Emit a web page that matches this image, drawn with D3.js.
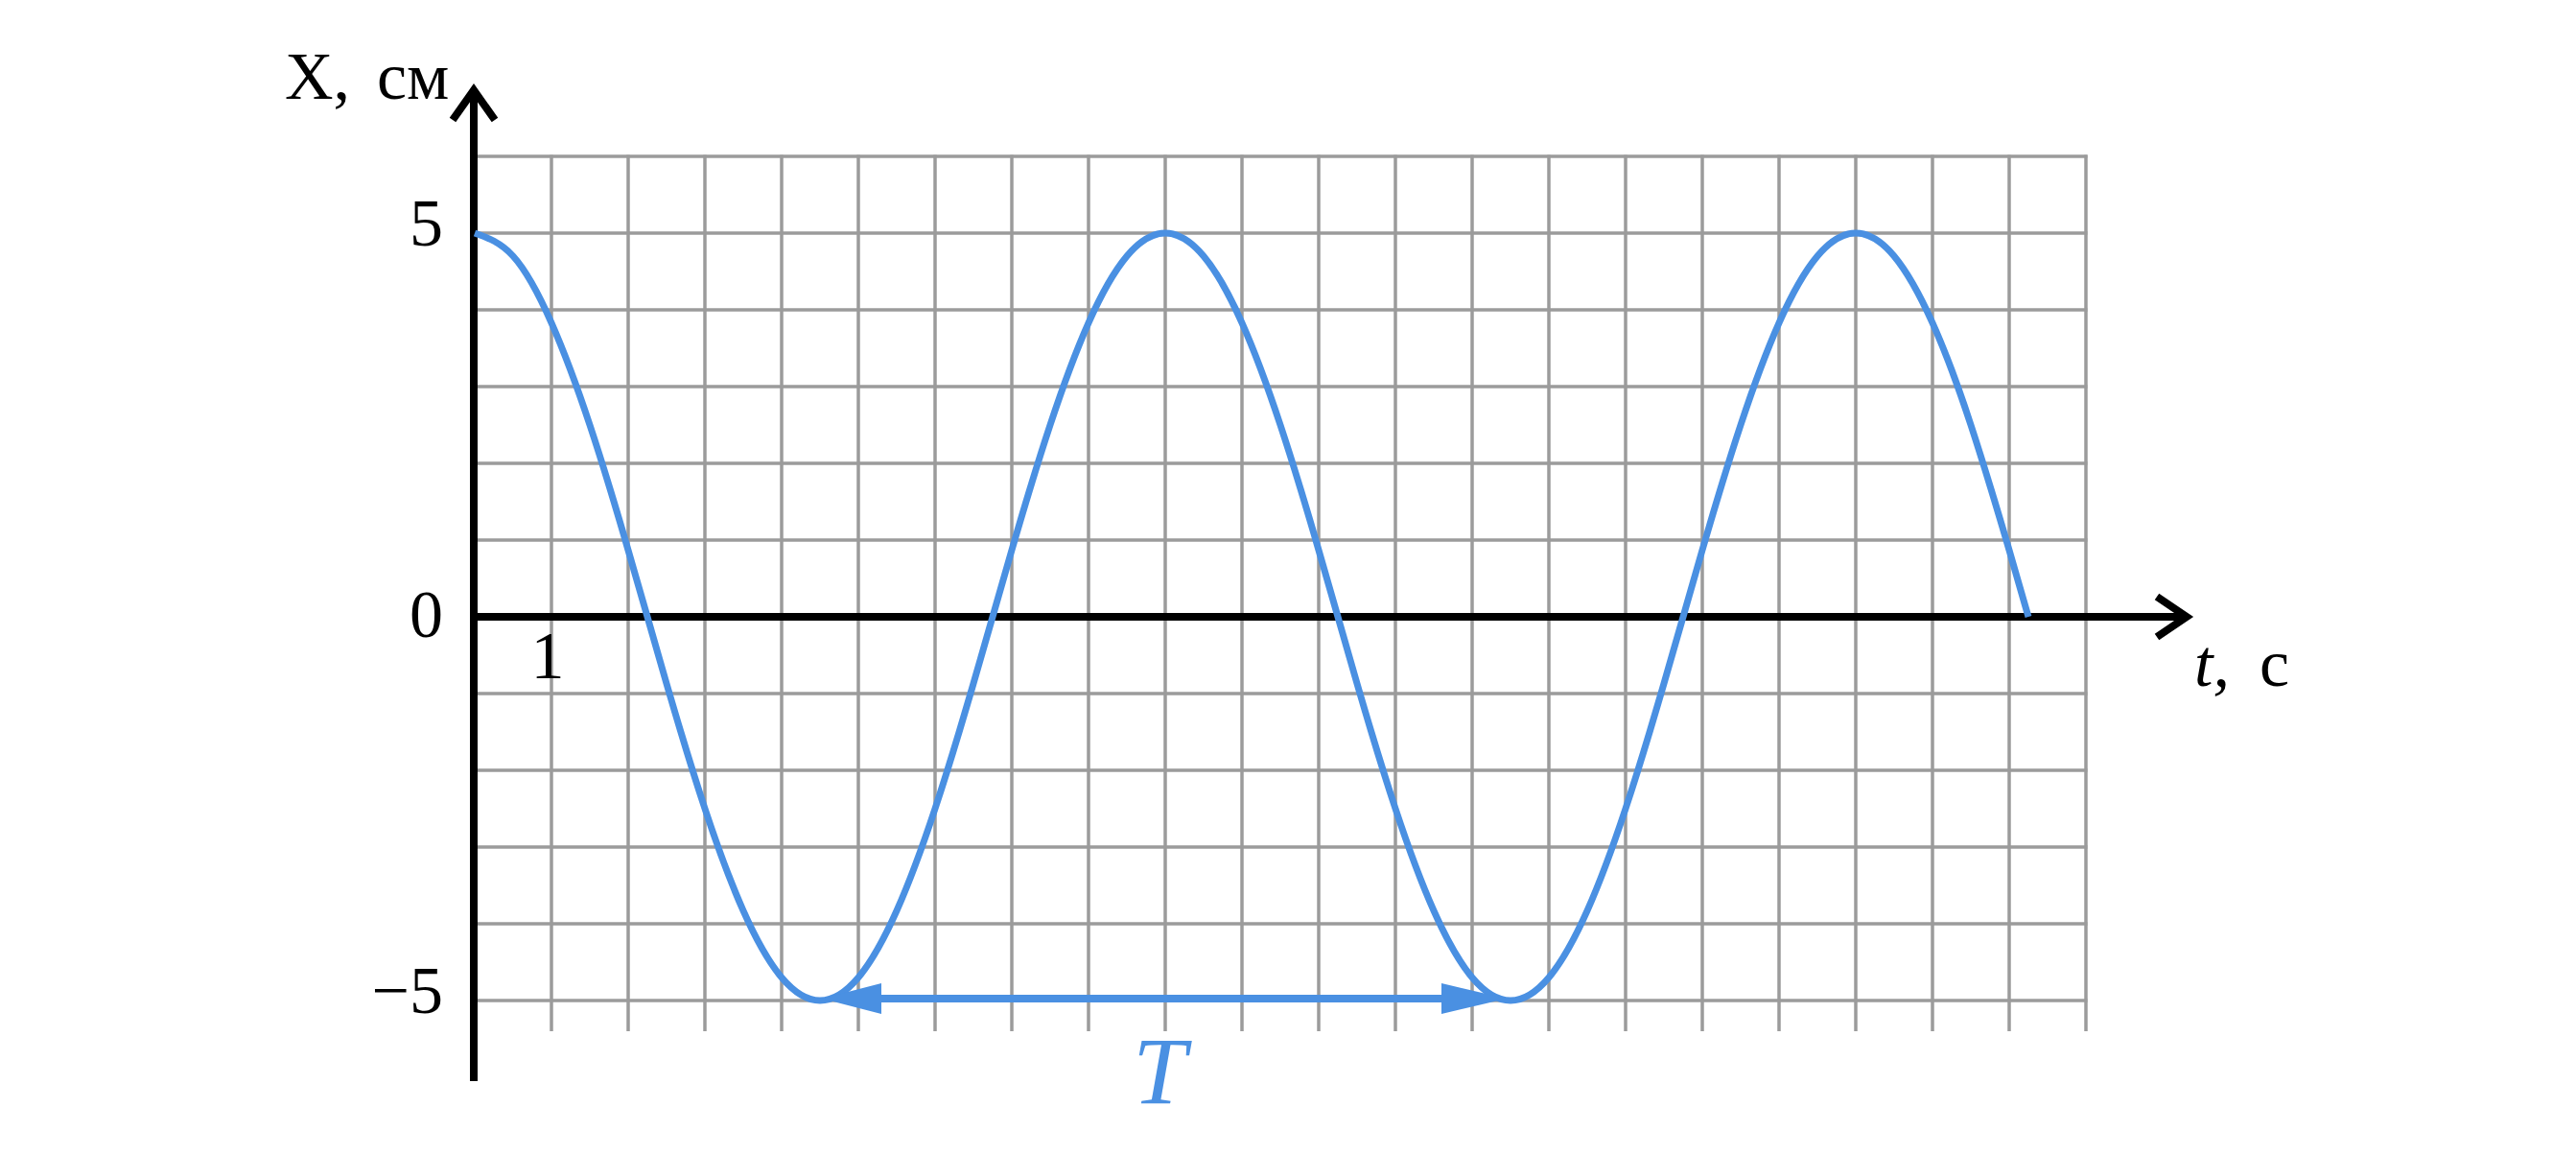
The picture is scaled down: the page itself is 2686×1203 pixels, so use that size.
<!DOCTYPE html>
<html>
<head>
<meta charset="utf-8">
<script src="https://cdn.jsdelivr.net/npm/d3@7"></script>
<style>
  html, body { margin: 0; padding: 0; background: #fff; }
  svg { display: block; }
  text { font-family: "Liberation Serif", "Times New Roman", serif; }
</style>
</head>
<body>
<svg id="chart" width="2686" height="1203"></svg>
<script>
// ---- data ----
const timeValues = [0, 0.5, 1, 1.5, 2, 2.5, 3, 3.5, 4, 4.5, 5, 5.5, 6, 6.5, 7, 7.5, 8, 8.5, 9,
  9.5, 10, 10.5, 11, 11.5, 12, 12.5, 13, 13.5, 14, 14.5, 15, 15.5, 16, 16.5, 17, 17.5, 18,
  18.5, 19, 19.5, 20, 20.25];
const xValues = [5, 4.70, 3.83, 2.5, 0.87, -0.87, -2.5, -3.83, -4.70, -5, -4.70, -3.83, -2.5, -0.87, 0.87, 2.5, 3.83, 4.70, 5,
  4.70, 3.83, 2.5, 0.87, -0.87, -2.5, -3.83, -4.70, -5, -4.70, -3.83, -2.5, -0.87, 0.87, 2.5, 3.83, 4.70, 5,
  4.70, 3.83, 2.5, 0.87, 0];
const yTickValues = [5, 0, -5];
const yTickLabels = ["5", "0", "\u22125"];
const xTickValues = [1];
const xTickLabels = ["1"];
const gridXValues = d3.range(1, 22);       // vertical grid lines t = 1..21
const gridYValues = [-5, -4, -3, -2, -1, 1, 2, 3, 4, 5, 6];
const periodStart = 4.5, periodEnd = 13.5; // T arrow between two minima
const periodLabel = "T";
const yAxisLabel = ["X,", "см"];
const xAxisLabel = ["t,", "с"];

// ---- drawing ----
const blue = "#4A90E2";
const svg = d3.select("#chart");
const x = d3.scaleLinear().domain([0, 21]).range([495, 2175]);
const y = d3.scaleLinear().domain([-5, 6]).range([1043, 163]);

// grid
const grid = svg.append("g").attr("stroke", "#9b9b9b").attr("stroke-width", 3.5);
grid.selectAll("line.v").data(gridXValues).join("line")
  .attr("x1", d => x(d)).attr("x2", d => x(d))
  .attr("y1", y(6) - 1.5).attr("y2", y(-5.4));
grid.selectAll("line.h").data(gridYValues).join("line")
  .attr("x1", x(0)).attr("x2", x(21) + 1.5)
  .attr("y1", d => y(d)).attr("y2", d => y(d));

// axes
const axes = svg.append("g").attr("stroke", "#000").attr("stroke-width", 8).attr("fill", "none");
const ax0 = x(0) - 1, ay0 = y(0);
axes.append("line").attr("x1", ax0).attr("x2", ax0).attr("y1", y(-6.05)).attr("y2", y(6.9) + 3);
axes.append("path").attr("d", d3.line()([[ax0 - 22, y(6.9) + 34], [ax0, y(6.9) + 3], [ax0 + 22, y(6.9) + 34]]))
  .attr("stroke-linejoin", "miter");
axes.append("line").attr("x1", ax0 - 4).attr("x2", x(22.35) - 3).attr("y1", ay0).attr("y2", ay0);
axes.append("path").attr("d", d3.line()([[x(22.35) - 34, ay0 - 21], [x(22.35) - 3, ay0], [x(22.35) - 34, ay0 + 21]]))
  .attr("stroke-linejoin", "miter");

// curve
const pts = timeValues.map((t, i) => [t, xValues[i]]);
svg.append("path")
  .attr("d", d3.line().x(d => x(d[0])).y(d => y(d[1])).curve(d3.curveNatural)(pts))
  .attr("fill", "none").attr("stroke", blue).attr("stroke-width", 7);

// period arrow
const ay = y(-5) - 2;
const tipL = x(periodStart) + 2, tipR = x(periodEnd) - 4;
const g = svg.append("g");
g.append("line").attr("x1", tipL + 20).attr("x2", tipR - 20).attr("y1", ay).attr("y2", ay)
  .attr("stroke", blue).attr("stroke-width", 8);
g.append("path").attr("d", `M${tipL},${ay} L${tipL + 62},${ay - 16} L${tipL + 62},${ay + 16} Z`).attr("fill", blue);
g.append("path").attr("d", `M${tipR},${ay} L${tipR - 68},${ay - 16} L${tipR - 68},${ay + 16} Z`).attr("fill", blue);
g.append("text").attr("x", x((periodStart + periodEnd) / 2) - 6).attr("y", 1150)
  .attr("text-anchor", "middle").attr("font-style", "italic").attr("font-size", 100)
  .attr("fill", blue).text(periodLabel);

// tick labels
const fs = 70;
svg.append("g").selectAll("text").data(yTickValues).join("text")
  .attr("x", x(0) - 33).attr("y", (d, i) => y(d) + (d === 0 ? 21 : 13))
  .attr("text-anchor", "end").attr("font-size", fs).text((d, i) => yTickLabels[i]);
svg.append("g").selectAll("text").data(xTickValues).join("text")
  .attr("x", d => x(d) - 4).attr("y", y(0) + 64)
  .attr("text-anchor", "middle").attr("font-size", fs).text((d, i) => xTickLabels[i]);

// axis labels
svg.append("text").attr("x", 297).attr("y", 103).attr("font-size", fs).text(yAxisLabel[0]);
svg.append("text").attr("x", 393).attr("y", 103).attr("font-size", fs).text(yAxisLabel[1]);
svg.append("text").attr("x", 2288).attr("y", 715).attr("font-size", fs).attr("font-style", "italic").text(xAxisLabel[0]);
svg.append("text").attr("x", 2356).attr("y", 715).attr("font-size", fs).text(xAxisLabel[1]);
</script>
</body>
</html>
